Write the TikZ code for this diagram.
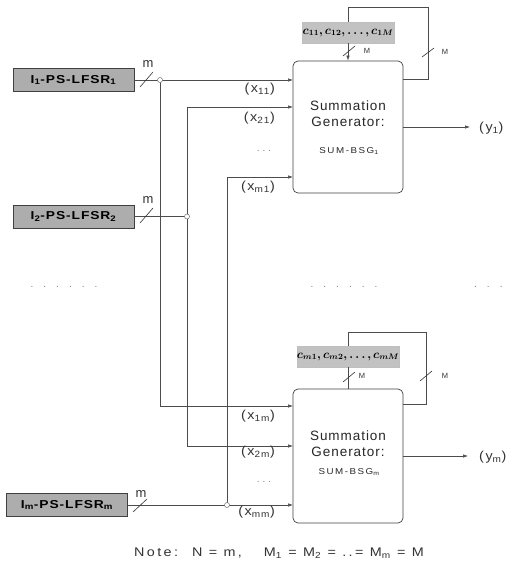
\documentclass[tikz,border=0pt]{standalone}
\usepackage{fontspec}
\setmainfont{Liberation Sans}
\usepackage{amsmath,bm}
\usetikzlibrary{arrows.meta}
\begin{document}
\begin{tikzpicture}[x=1pt,y=-1pt]
\useasboundingbox (0,0) rectangle (507,562);
\tikzset{
 lfsr/.style={draw=black!75, line width=0.8pt, fill=black!32, minimum width=121pt, minimum height=23pt, inner sep=0pt,
   font=\bfseries\fontsize{11.5}{13}\selectfont\addfontfeature{FakeStretch=1.2,LetterSpace=8}},
 sumbox/.style={draw=black!75, line width=0.7pt, rounded corners=5pt, minimum width=110pt, inner sep=0pt},
 cbox/.style={fill=black!24, draw=black!25, minimum height=21pt, inner sep=0pt, font=\fontsize{11.5}{13}\selectfont},
 jn/.style={circle, draw=black!55, fill=white, inner sep=0pt, minimum size=5pt, line width=0.5pt},
 wire/.style={draw=black!70, line width=0.6pt},
 arr/.style={wire, -{Latex[length=5pt,width=3.5pt]}},
 xlbl/.style={font=\fontsize{13}{14}\selectfont\addfontfeature{FakeStretch=1.1,LetterSpace=12}, text=black!80, inner sep=0pt},
 mlbl/.style={font=\fontsize{13}{14}\selectfont, text=black!80, inner sep=0pt},
 Mlbl/.style={font=\fontsize{7.5}{9}\selectfont, text=black!80, inner sep=0pt},
 sumtxt/.style={align=center, font=\fontsize{13.5}{16}\selectfont\addfontfeature{LetterSpace=7}, text=black!85, inner sep=0pt},
 bsgtxt/.style={font=\fontsize{8.5}{10}\selectfont\addfontfeature{FakeStretch=1.15,LetterSpace=18}, text=black!85, inner sep=0pt},
 dots/.style={text=black!50, font=\fontsize{10}{12}\selectfont, inner sep=0pt},
 sl/.style={draw=black!80, line width=0.6pt},
}
% LFSR boxes
\node[lfsr] (L1) at (73.5,80) {I\textsubscript{1}-PS-LFSR\textsubscript{1}};
\node[lfsr] (L2) at (73.5,216.5) {I\textsubscript{2}-PS-LFSR\textsubscript{2}};
\node[lfsr] (Lm) at (67,505) {I\textsubscript{m}-PS-LFSR\textsubscript{m}};
% summation generators
\node[sumbox, minimum height=132pt] (S1) at (348,127) {};
\node[sumbox, minimum height=134pt] (Sm) at (348,456) {};
\node[sumtxt] (S1t) at (348,114) {Summation\\Generator:};
\node[bsgtxt] (S1b) at (349,151) {SUM-BSG\textsubscript{1}};
\node[sumtxt] (Smt) at (348,443.5) {Summation\\Generator:};
\node[bsgtxt] (Smb) at (349,472) {SUM-BSG\textsubscript{m}};
% coefficient boxes
\node[cbox, minimum width=92pt] (C1) at (348,32.5) {$\bm{c_{11}, c_{12}, \ldots, c_{1M}}$};
\node[cbox, minimum width=96pt] (Cm) at (348,356.5) {$\bm{c_{m1}, c_{m2}, \ldots, c_{mM}}$};
% junctions and input points
\coordinate (J1) at (160,80);
\coordinate (J2) at (187,216.5);
\coordinate (Jm) at (227,505);
\coordinate (i11) at (293,80);
\coordinate (i21) at (293,107);
\coordinate (im1) at (293,177);
\coordinate (i1m) at (293,406);
\coordinate (i2m) at (293,446);
\coordinate (imm) at (293,505);
% inputs
\draw[arr] (L1.east) -- (i11);
\draw[arr] (J1) |- (i1m);
\draw[wire] (L2.east) -- (J2);
\draw[arr] (J2) |- (i21);
\draw[arr] (J2) |- (i2m);
\draw[arr] (Lm.east) -- (imm);
\draw[arr] (Jm) |- (im1);
\node[jn] (J1c) at (J1) {};
\node[jn] (J2c) at (J2) {};
\node[jn] (Jmc) at (Jm) {};
% input labels
\node[xlbl, anchor=north east] (x11) at (275,83) {(x\textsubscript{11})};
\node[xlbl, anchor=north east] (x21) at (275,112) {(x\textsubscript{21})};
\node[dots] (d1) at (264,151) {.\hspace{3pt}.\hspace{3pt}.};
\node[xlbl, anchor=north east] (xm1) at (275,181) {(x\textsubscript{m1})};
\node[xlbl, anchor=north east] (x1m) at (275,410) {(x\textsubscript{1m})};
\node[xlbl, anchor=north east] (x2m) at (275,446) {(x\textsubscript{2m})};
\node[dots] (d2) at (264,482) {.\hspace{3pt}.\hspace{3pt}.};
\node[xlbl, anchor=north east] (xmm) at (275,506) {(x\textsubscript{mm})};
% outputs
\coordinate (o1) at (470,127);
\coordinate (om) at (468,456);
\draw[arr] (S1.east) -- (o1);
\draw[arr] (Sm.east) -- (om);
\node[xlbl, anchor=west] (y1) at (479,128) {(y\textsubscript{1})};
\node[xlbl, anchor=west] (ym) at (479,457) {(y\textsubscript{m})};
% feedback loops
\coordinate (r1) at (403,79);
\coordinate (fb1) at (428,7);
\draw[wire] (r1) -| (fb1) -| (C1.north);
\draw[arr] (C1.south) -- (S1.north);
\coordinate (rm) at (403,404);
\coordinate (fbm) at (426,332);
\draw[wire] (rm) -| (fbm) -| (Cm.north);
\draw[wire] (Cm.south) -- (Sm.north);
% bus slashes
\draw[sl] (140,87) -- (153,72);
\draw[sl] (140,223) -- (153,208);
\draw[sl] (133,512) -- (147,499);
\draw[sl] (343,56) -- (355,46);
\draw[sl] (422,57) -- (434,48);
\draw[sl] (343,382) -- (355,372);
\draw[sl] (420,381) -- (432,371);
\node[mlbl] (m1) at (148,64) {m};
\node[mlbl] (m2) at (148,200) {m};
\node[mlbl] (mm) at (141,494) {m};
\node[Mlbl] (M1) at (367,51) {M};
\node[Mlbl] (M2) at (445,52) {M};
\node[Mlbl] (M3) at (362,376) {M};
\node[Mlbl] (M4) at (445,376) {M};
% dots
\node[dots] (e1) at (64,287) {.\hspace{10pt}.\hspace{10pt}.\hspace{10pt}.\hspace{10pt}.\hspace{10pt}.};
\node[dots] (e2) at (344,287) {.\hspace{10pt}.\hspace{10pt}.\hspace{10pt}.\hspace{10pt}.\hspace{10pt}.};
\node[dots, anchor=west] (e3) at (474,287) {.\hspace{10pt}.\hspace{10pt}.};
% note
\node[font=\fontsize{12.5}{14}\selectfont\addfontfeature{FakeStretch=1.15,LetterSpace=19}, text=black!80, inner sep=0pt] (note) at (279,553)
 {Note:\hspace{14pt}N = m,\hspace{22pt}M\textsubscript{1} = M\textsubscript{2} = ..= M\textsubscript{m} = M};
\end{tikzpicture}
\end{document}
